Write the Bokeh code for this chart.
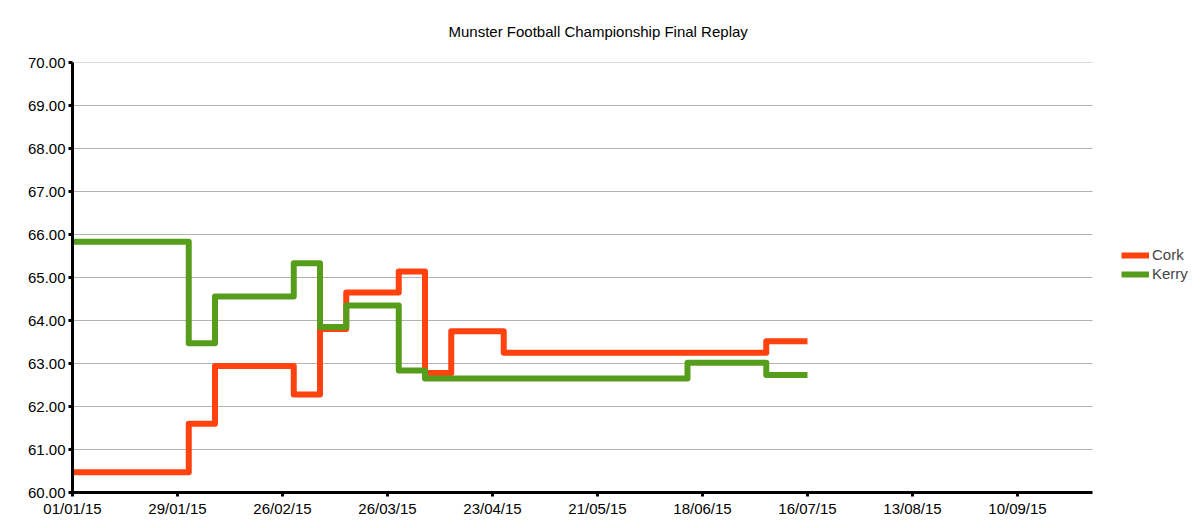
import pandas as pd
from bokeh.plotting import figure
from bokeh.models import (FixedTicker, DatetimeTickFormatter, NumeralTickFormatter,
                          Range1d, Legend, LegendItem)
from bokeh.embed import file_html
from bokeh.resources import INLINE

# ---- data ----
cork_dates = ["2015-01-01", "2015-02-01", "2015-02-08", "2015-03-01", "2015-03-08",
              "2015-03-15", "2015-03-29", "2015-04-05", "2015-04-12", "2015-04-26",
              "2015-07-05", "2015-07-16"]
cork_values = [60.47, 61.60, 62.94, 62.28, 63.80, 64.65, 65.14, 62.78, 63.75, 63.25,
               63.52, 63.52]

kerry_dates = ["2015-01-01", "2015-02-01", "2015-02-08", "2015-03-01", "2015-03-08",
               "2015-03-15", "2015-03-29", "2015-04-05", "2015-06-14", "2015-07-05",
               "2015-07-16"]
kerry_values = [65.83, 63.47, 64.56, 65.33, 63.85, 64.35, 62.84, 62.65, 63.02, 62.73,
                62.73]

x_tick_dates = ["2015-01-01", "2015-01-29", "2015-02-26", "2015-03-26", "2015-04-23",
                "2015-05-21", "2015-06-18", "2015-07-16", "2015-08-13", "2015-09-10"]
y_ticks = [60, 61, 62, 63, 64, 65, 66, 67, 68, 69, 70]

x_start, x_end = "2015-01-01", "2015-09-30"

def ms(d):
    return pd.Timestamp(d).value / 1e6

# plot area runs 72..1092 px for the date span; the frame itself extends to the
# canvas edge so that the legend (drawn inside the frame) is not clipped
axis_px, frame_px = 1020, 1128
x0 = ms(x_start)
x1 = ms(x_end)
frame_end = x0 + (x1 - x0) * frame_px / axis_px

p = figure(width=1200, height=528, output_backend="svg", toolbar_location=None,
           x_axis_type="datetime",
           x_range=Range1d(x0, frame_end), y_range=Range1d(60, 70),
           min_border_left=72, min_border_right=0, min_border_top=62,
           min_border_bottom=36)

p.title.text = "Munster Football Championship Final Replay"
p.title.align = "left"
p.title.vertical_align = "top"
p.title.text_font = "Liberation Sans"
p.title.text_font_size = "15px"
p.title.text_font_style = "normal"
p.title.text_color = "#000000"
p.title.offset = 376
p.title.standoff = 42

red = "#ff420e"
green = "#579d1c"

# horizontal grid lines, limited to the date span
p.segment(x0=[x0] * len(y_ticks), y0=y_ticks, x1=[x1] * len(y_ticks), y1=y_ticks,
          line_color="#b3b3b3", line_width=1)

r1 = p.step([ms(d) for d in cork_dates], cork_values, mode="after",
            line_color=red, line_width=6, line_join="round")
r2 = p.step([ms(d) for d in kerry_dates], kerry_values, mode="after",
            line_color=green, line_width=6, line_join="round")

p.xaxis.ticker = FixedTicker(ticks=[ms(d) for d in x_tick_dates])
p.xaxis.formatter = DatetimeTickFormatter(days="%d/%m/%y", months="%d/%m/%y",
                                          years="%d/%m/%y")
p.xaxis.bounds = (x0, x1)
p.yaxis.ticker = FixedTicker(ticks=y_ticks)
p.yaxis.formatter = NumeralTickFormatter(format="0.00")

for ax in (p.xaxis[0], p.yaxis[0]):
    ax.axis_line_width = 3
    ax.axis_line_color = "#000000"
    ax.major_tick_line_width = 3
    ax.major_tick_line_color = "#000000"
    ax.major_tick_out = 4
    ax.major_tick_in = 0
    ax.minor_tick_line_color = None
    ax.major_label_text_font = "Liberation Sans"
    ax.major_label_text_font_size = "15px"
    ax.major_label_text_color = "#000000"
    ax.major_label_standoff = 3

p.xgrid.grid_line_color = None
p.ygrid.grid_line_color = None
p.outline_line_color = None

legend = Legend(items=[LegendItem(label="Cork", renderers=[r1]),
                       LegendItem(label="Kerry", renderers=[r2])],
                location=(1049, 209), orientation="vertical",
                glyph_width=28, glyph_height=12, spacing=0, padding=0, margin=0,
                label_standoff=3, label_text_font="Liberation Sans",
                label_text_font_size="15px", label_height=19,
                background_fill_alpha=0, border_line_color=None)
p.add_layout(legend, "center")

open("out.html", "w").write(file_html(p, INLINE))
